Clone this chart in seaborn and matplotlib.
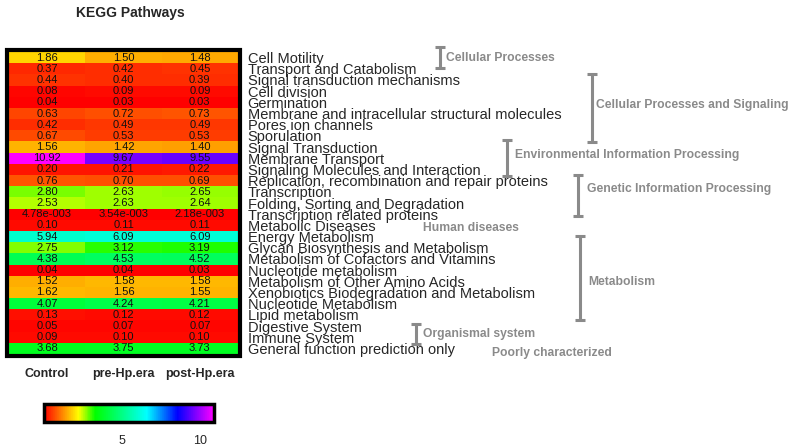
import numpy as np
import pandas as pd
import matplotlib.pyplot as plt
import seaborn as sns
from matplotlib.colors import LinearSegmentedColormap
from matplotlib.patches import Rectangle

sns.set_style("white")
plt.rcParams["font.family"] = ["Liberation Sans", "DejaVu Sans"]

# Dados
vias = [
    "Cell Motility", "Transport and Catabolism", "Signal transduction mechanisms",
    "Cell division", "Germination", "Membrane and intracellular structural molecules",
    "Pores ion channels", "Sporulation", "Signal Transduction", "Membrane Transport",
    "Signaling Molecules and Interaction", "Replication, recombination and repair proteins",
    "Transcription", "Folding, Sorting and Degradation", "Transcription related proteins",
    "Metabolic Diseases", "Energy Metabolism", "Glycan Biosynthesis and Metabolism",
    "Metabolism of Cofactors and Vitamins", "Nucleotide metabolism",
    "Metabolism of Other Amino Acids", "Xenobiotics Biodegradation and Metabolism",
    "Nucleotide Metabolism", "Lipid metabolism", "Digestive System", "Immune System",
    "General function prediction only",
]
grupos = ["Control", "pre-Hp.era", "post-Hp.era"]

control = [1.86, 0.37, 0.44, 0.08, 0.04, 0.63, 0.42, 0.67, 1.56, 10.92, 0.20, 0.76,
           2.80, 2.53, 4.78e-3, 0.10, 5.94, 2.75, 4.38, 0.04, 1.52, 1.62, 4.07, 0.13,
           0.05, 0.09, 3.68]
pre_hp = [1.50, 0.42, 0.40, 0.09, 0.03, 0.72, 0.49, 0.53, 1.42, 9.67, 0.21, 0.70,
          2.63, 2.63, 3.54e-3, 0.11, 6.09, 3.12, 4.53, 0.04, 1.58, 1.56, 4.24, 0.12,
          0.07, 0.10, 3.75]
post_hp = [1.48, 0.45, 0.39, 0.09, 0.03, 0.73, 0.49, 0.53, 1.40, 9.55, 0.22, 0.69,
           2.65, 2.64, 2.18e-3, 0.11, 6.09, 3.19, 4.52, 0.03, 1.58, 1.55, 4.21, 0.12,
           0.07, 0.10, 3.73]

# categorias (rótulo, x da barra, y0, y1, x do texto, y do texto)
categorias = [
    ("Cellular Processes", 440, 47, 68, 446, 58),
    ("Cellular Processes and Signaling", 592, 74, 142, 596, 105),
    ("Environmental Information Processing", 507, 140, 176, 515, 155),
    ("Genetic Information Processing", 578, 175, 216, 587, 189),
    ("Human diseases", None, None, None, 423, 228),
    ("Metabolism", 580, 236, 320, 588, 282),
    ("Organismal system", 416, 324, 344, 423, 334),
    ("Poorly characterized", None, None, None, 492, 353),
]

df = pd.DataFrame({"Control": control, "pre-Hp.era": pre_hp, "post-Hp.era": post_hp},
                  index=vias)


def fmt(v):
    if v < 0.01:
        return "%.2e" % v
    return "%.2f" % v


anot = np.array([[fmt(v) for v in linha] for linha in df.values])
anot = np.vectorize(lambda s: s.replace("e-03", "e-003"))(anot)

vmax = 10.92
cores = [(0.0, "#ff0000"), (2.2 / vmax, "#ffff00"), (3.3 / vmax, "#00ff00"),
         (6.6 / vmax, "#00ffff"), (8.6 / vmax, "#0000ff"), (1.0, "#ff00ff")]
cmap = LinearSegmentedColormap.from_list("kegg", cores)

W, H = 791, 446
fig = plt.figure(figsize=(W / 100, H / 100), dpi=100)
ax = fig.add_axes([9 / W, 1 - 354 / H, 229 / W, 302 / H])
cax = fig.add_axes([44 / W, 1 - 422 / H, 170 / W, 18 / H])

sns.heatmap(df, ax=ax, cmap=cmap, vmin=0, vmax=vmax, annot=anot, fmt="",
            annot_kws={"size": 8, "color": "#111111"}, cbar=True, cbar_ax=cax,
            cbar_kws={"orientation": "horizontal", "ticks": [5, 10]})

ax.yaxis.tick_right()
ax.set_yticks(np.arange(len(vias)) + 0.5)
ax.set_yticklabels(vias, rotation=0, fontsize=10.5)
ax.tick_params(axis="y", length=0, pad=7)
ax.set_xticklabels(grupos, rotation=0, fontsize=9, fontweight="bold")
ax.tick_params(axis="x", length=0, pad=10)
ax.set_xlabel("")
ax.set_ylabel("")

# moldura preta
fig.add_artist(Rectangle((7 / W, 1 - 356 / H), 233 / W, 306 / H, transform=fig.transFigure,
                         fill=False, edgecolor="black", linewidth=3))

cb = ax.collections[0].colorbar
cb.outline.set_linewidth(2.5)
cb.outline.set_edgecolor("black")
cax.tick_params(axis="x", direction="in", length=3, width=3, top=True, bottom=True,
                labelsize=9, pad=9, color="black")

fig.text(130 / W, 1 - 13 / H, "KEGG Pathways", ha="center", va="center",
         fontsize=10, fontweight="bold")

# colchetes das categorias
ov = fig.add_axes([0, 0, 1, 1], zorder=5)
ov.set_xlim(0, W)
ov.set_ylim(H, 0)
ov.axis("off")
cinza = "#8a8a8a"
for rotulo, bx, y0, y1, tx, ty in categorias:
    if bx is not None:
        ov.plot([bx, bx], [y0, y1], color=cinza, lw=2.2, solid_capstyle="butt")
        ov.plot([bx - 5, bx + 5], [y0, y0], color=cinza, lw=2.2, solid_capstyle="butt")
        ov.plot([bx - 5, bx + 5], [y1, y1], color=cinza, lw=2.2, solid_capstyle="butt")
    ov.text(tx, ty, rotulo, color=cinza, fontsize=8.7, fontweight="bold",
            ha="left", va="center")

plt.savefig("out.png", dpi=100)
